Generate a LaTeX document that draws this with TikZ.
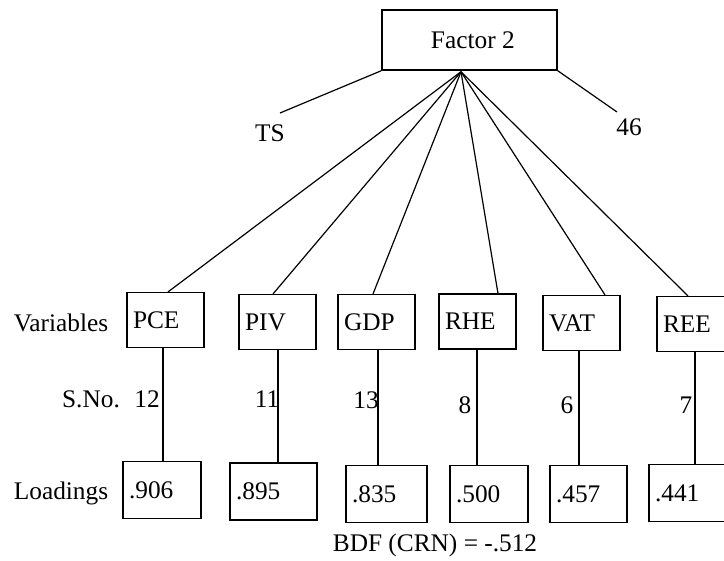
\documentclass[tikz,border=0pt]{standalone}
\usepackage{fontspec}
\setmainfont{Liberation Serif}
\usetikzlibrary{calc}

\begin{document}
\begin{tikzpicture}[x=0.75pt,y=0.75pt,yscale=-1,xscale=1,
        every node/.style={font=\fontsize{19}{22}\selectfont},
        facbox/.style={draw,line width=1.1pt,minimum width=131.25pt,minimum height=45pt,inner sep=0pt},
        varbox/.style={draw,line width=1.1pt,inner sep=4.5pt,text width=48.75pt,minimum height=41pt,align=left},
        loadbox/.style={draw,line width=1.1pt,inner sep=4.5pt,text width=49.5pt,minimum height=43pt,align=left},
        conn/.style={line width=0.9pt}]
        \useasboundingbox (0,0) rectangle (724,560);
        \clip (0,0) rectangle (724,560);

        % Factor box
        \node [facbox] (factor) at (469.5,40) {\hspace*{5pt}Factor 2};
        \coordinate (hub) at ($(factor.south)+(-8.5,1)$);

        % Variables
        \node [varbox] (pce) at (165.5,320) {PCE};
        \node [varbox] (piv) at (277.5,322) {PIV};
        \node [varbox] (gdp) at (376.5,322) {GDP};
        \node [varbox] (rhe) at (477.5,321.5) {RHE};
        \node [varbox] (vat) at (581.5,323) {VAT};
        \node [varbox] (ree) at (695.5,324) {REE};

        % Loadings
        \node [loadbox] (l1) at (162,490) {.906};
        \node [loadbox,text width=56.25pt] (l2) at (273.5,491.5) {.895};
        \node [loadbox,text width=51.75pt] (l3) at (386.5,494) {.835};
        \node [loadbox] (l4) at (489,494) {.500};
        \node [loadbox,text width=48.75pt] (l5) at (588.5,494) {.457};
        \node [loadbox,text width=51pt] (l6) at (689,493) {.441};

        % Text Node
        \node (lvar) at (61,323) {Variables};
        \node (lsno) at (91,399) {S.No.};
        \node (lload) at (61,493) {Loadings};
        \node (s1) at (147,399) {12};
        \node (s2) at (267,399) {11};
        \node (s3) at (366,400) {13};
        \node (s4) at (465,405) {8};
        \node (s5) at (567,405) {6};
        \node (s6) at (686,405) {7};
        \node (ts) at (270,133) {TS};
        \node (n46) at (629,127) {46};
        \node (bdf) at (435,545) {BDF (CRN) = -.512};

        %Straight Lines
        \coordinate (tsend) at (280,113);
        \coordinate (end46) at (617,112);
        \draw [conn] (factor.south west) -- (tsend);
        \draw [conn] (factor.south east) -- (end46);

        %Straight Lines
        \draw [conn] (hub) -- ($(pce.north)+(2.5,0)$);
        \draw [conn] (hub) -- ($(piv.north)+(-4.5,0)$);
        \draw [conn] (hub) -- ($(gdp.north)+(-3.5,0)$);
        \draw [conn] (hub) -- ($(rhe.north)+(20.5,0)$);
        \draw [conn] (hub) -- ($(vat.north)+(23.5,0)$);
        \draw [conn] (hub) -- ($(ree.north)+(-7.5,0)$);

        %Straight Lines
        \draw [conn] ($(pce.south)+(-2.5,0)$) -- ($(l1.north)+(1,0)$);
        \draw [conn] ($(piv.south)+(0.5,0)$) -- ($(l2.north)+(4.5,0)$);
        \draw [conn] ($(gdp.south)+(1.5,0)$) -- ($(l3.north)+(-8.5,0)$);
        \draw [conn] ($(rhe.south)+(-0.5,0)$) -- ($(l4.north)+(-12,0)$);
        \draw [conn] ($(vat.south)+(-2.5,0)$) -- ($(l5.north)+(-9.5,0)$);
        \draw [conn] ($(ree.south)+(-0.5,0)$) -- ($(l6.north)+(6,0)$);

\end{tikzpicture}
\end{document}
